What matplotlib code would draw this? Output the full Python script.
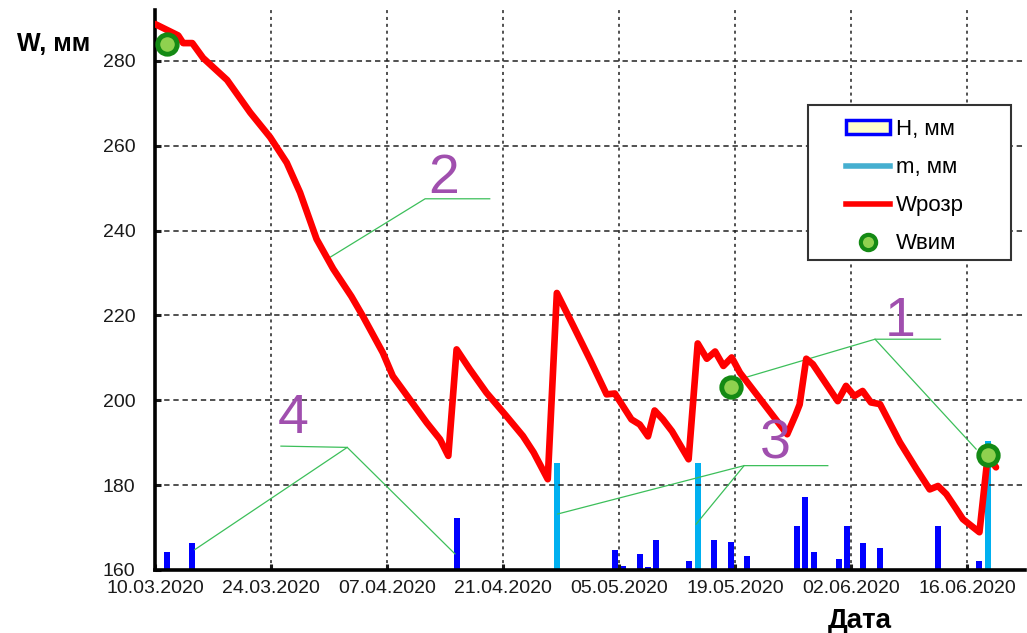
import matplotlib
matplotlib.use("Agg")
import matplotlib.pyplot as plt
from matplotlib.patches import Rectangle
from matplotlib.lines import Line2D

plt.rcParams['font.family'] = ['Liberation Sans', 'DejaVu Sans']

# Day offsets are counted from 10.03.2020
tick_days = [0, 14, 28, 42, 56, 70, 84, 98]
tick_labels = ['10.03.2020', '24.03.2020', '07.04.2020', '21.04.2020',
               '05.05.2020', '19.05.2020', '02.06.2020', '16.06.2020']
y_ticks = [160, 180, 200, 220, 240, 260, 280]

# Computed soil water storage, W_rozr (mm)
w_calc_days = [0, 2.8, 3.4, 4.5, 5.8, 8.7, 11.5, 13.9, 15.9, 17.5, 19.5, 21.5,
               23.7, 25.1, 27.5, 28.7, 32.8, 34.4, 35.4, 36.4, 38.0, 40.0, 42.4,
               44.4, 45.7, 47.4, 48.5, 50.5, 52.5, 54.5, 55.5, 57.5, 58.5, 59.5,
               60.3, 61.3, 62.4, 64.4, 65.5, 66.6, 67.6, 68.6, 69.6, 70.6, 76.3,
               77.3, 77.8, 78.6, 79.4, 82.4, 83.4, 84.4, 85.4, 86.4, 87.5, 89.9,
               91.9, 93.5, 94.5, 95.5, 96.7, 97.5, 99.5, 100.5, 101.5]
w_calc = [288.7, 286.0, 284.2, 284.2, 280.7, 275.5, 267.8, 262.0, 256.0, 249.0,
          238.0, 231.0, 224.5, 219.8, 211.2, 205.7, 194.7, 190.8, 186.9, 212.0,
          207.3, 201.8, 196.3, 191.6, 187.7, 181.4, 225.3, 217.5, 209.6, 201.4,
          201.6, 195.5, 194.3, 191.5, 197.6, 195.5, 192.7, 186.1, 213.4, 209.8,
          211.5, 208.1, 210.1, 206.5, 192.0, 196.5, 199.0, 209.8, 208.5, 199.8,
          203.4, 201.0, 202.2, 199.5, 199.1, 190.1, 183.8, 179.0, 179.8, 177.9,
          174.4, 172.0, 168.9, 186.9, 184.2]

# Measured soil water storage, W_vym (mm)
w_meas_days = [1.5, 69.5, 100.5]
w_meas = [283.9, 203.2, 187.2]

# Precipitation H (bars)
rain_days = [1.5, 4.5, 36.5, 55.5, 56.5, 58.5, 59.5, 60.5, 64.5, 67.5, 69.5,
             71.5, 77.5, 78.5, 79.5, 82.5, 83.5, 85.5, 87.5, 94.5, 99.5]
rain = [164.3, 166.3, 172.2, 164.8, 160.9, 163.8, 160.8, 167.1, 162.2, 167.1,
        166.7, 163.4, 170.3, 177.1, 164.2, 162.6, 170.3, 166.4, 165.2, 170.3,
        162.2]

# Irrigation m (bars)
irr_days = [48.5, 65.5, 100.5]
irr = [185.2, 185.2, 190.3]

W, H = 1027, 633
fig = plt.figure(figsize=(W / 100, H / 100), dpi=100)
ax = fig.add_axes([155 / W, 1 - 570 / H, (1025 - 155) / W, (570 - 10) / H])
ax.set_axisbelow('line')

ax.bar(rain_days, rain, width=0.72, color='#0000ff', zorder=1)
ax.bar(irr_days, irr, width=0.72, color='#00b0f0', zorder=1)
ax.plot(w_calc_days, w_calc, color='#ff0000', lw=4.8, solid_joinstyle='round',
        solid_capstyle='round', zorder=3)
ax.plot(w_meas_days, w_meas, 'o', ms=14, mfc='#8fd14f', mec='#148a14',
        mew=3.5, zorder=4, clip_on=False)

ax.set_xlim(0, 105)
ax.set_ylim(160, 292)
ax.set_xticks(tick_days)
ax.set_xticklabels(tick_labels)
ax.set_yticks(y_ticks)

ax.xaxis.grid(True, color='#222222', lw=1.1, linestyle=(0, (2, 2.5)))
ax.yaxis.grid(True, color='#222222', lw=1.1, linestyle=(0, (3.5, 2.5)))

for s in ['top', 'right']:
    ax.spines[s].set_visible(False)
for s in ['left', 'bottom']:
    ax.spines[s].set_linewidth(2.6)
    ax.spines[s].set_color('black')
ax.tick_params(axis='both', direction='in', length=4, width=2.2,
               labelsize=14, colors='#1a1a1a')
ax.tick_params(axis='y', pad=14)
ax.tick_params(axis='x', pad=7.5)

# Callout labels with leader lines
lc = '#3cbf5a'
tc = '#a04fae'
callouts = [
    ('2', (34.8, 248.9), [(20.7, 233.2), (32.6, 247.5), (40.4, 247.5)]),
    ('1', (89.9, 215.1), [(70.6, 205.0), (86.9, 214.4), (94.8, 214.4)]),
    ('3', (74.9, 186.2), [(48.6, 173.2), (71.1, 184.6), (81.2, 184.6)]),
    ('4', (16.7, 192.2), [(15.2, 189.2), (23.2, 188.9), (4.8, 164.8)]),
]
for label, (tx, ty), pts in callouts:
    xs, ys = zip(*pts)
    ax.plot(xs, ys, color=lc, lw=0.9, zorder=2.6)
    ax.text(tx, ty, label, color=tc, fontsize=40, ha='center', va='baseline',
            zorder=5)
ax.plot([86.9, 99.1], [214.4, 188.5], color=lc, lw=0.9, zorder=2.6)
ax.plot([71.1, 65.3], [184.6, 170.8], color=lc, lw=0.9, zorder=2.6)
ax.plot([23.2, 36.2], [188.9, 163.8], color=lc, lw=0.9, zorder=2.6)

fig.text(54 / W, 1 - 44 / H, 'W, мм', fontsize=18, fontweight='bold',
         ha='center', va='center')
fig.text(860 / W, 1 - 621 / H, 'Дата', fontsize=20, fontweight='bold',
         ha='center', va='center')

# Legend
handles = [
    Rectangle((0, 0), 1, 1, facecolor='#ffffcc', edgecolor='#0000ff', lw=2.5),
    Line2D([], [], color='#45afd0', lw=4),
    Line2D([], [], color='#ff0000', lw=4),
    Line2D([], [], ls='none', marker='o', ms=11, mfc='#8fd14f', mec='#148a14',
           mew=3),
]
labels = ['H, мм', 'm, мм', 'Wрозр', 'Wвим']
fig.patches.append(Rectangle((808 / W, 1 - 260 / H), (1011 - 808) / W,
                             (260 - 105) / H, transform=fig.transFigure,
                             facecolor='white', edgecolor='#333333', lw=1.5,
                             zorder=4))
leg = fig.legend(handles, labels, loc='upper left',
                 bbox_to_anchor=(846 / W, 1 - 119 / H),
                 bbox_transform=fig.transFigure, frameon=False, fontsize=16,
                 borderpad=0, borderaxespad=0, handlelength=2.0,
                 handleheight=0.6, handletextpad=0.25, labelspacing=0.77)
leg.set_zorder(5)

fig.savefig('out.png', dpi=100)
